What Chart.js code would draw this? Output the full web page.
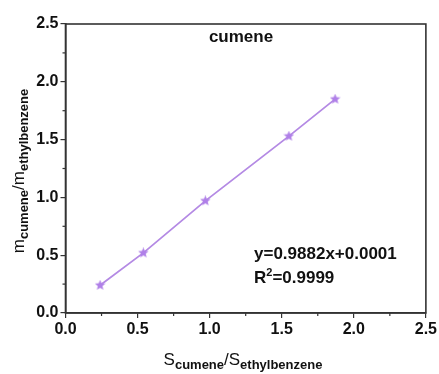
<!DOCTYPE html>
<html><head><meta charset="utf-8">
<script src="https://cdn.jsdelivr.net/npm/chart.js@4/dist/chart.umd.min.js"></script>
<style>html,body{margin:0;padding:0;background:#fff}#wrap{width:439px;height:374px}</style>
</head><body><div id="wrap"><canvas id="c" width="439" height="374"></canvas></div>
<script>
const xValues = [0.24, 0.54, 0.97, 1.55, 1.87];
const yValues = [0.24, 0.52, 0.97, 1.53, 1.85];
const tickValues = [0, 0.5, 1.0, 1.5, 2.0, 2.5];
const titleText = 'cumene';
const equationText = 'y=0.9882x+0.0001';
const r2Text = '0.9999';

const FONT = '"Liberation Sans", Arial, sans-serif';
const LINE = '#b48ae4';
const AX = '#333333';

function starImage(size, color) {
  const c = document.createElement('canvas');
  c.width = size; c.height = size;
  const g = c.getContext('2d');
  const cx = size / 2, cy = size / 2, R = size / 2, r = R * 0.45;
  g.beginPath();
  for (let i = 0; i < 10; i++) {
    const a = -Math.PI / 2 + i * Math.PI / 5;
    const rad = i % 2 === 0 ? R : r;
    const x = cx + rad * Math.cos(a), y = cy + rad * Math.sin(a);
    if (i === 0) g.moveTo(x, y); else g.lineTo(x, y);
  }
  g.closePath();
  g.fillStyle = color; g.fill();
  return c;
}
const star = starImage(11, '#b080e8');

function drawSub(ctx, parts, x, y) {
  const mainF = 'normal 17px ' + FONT, subF = 'bold 13px ' + FONT;
  let w = 0;
  parts.forEach((p, i) => { ctx.font = i % 2 ? subF : mainF; w += ctx.measureText(p).width; });
  let cx = x - w / 2;
  ctx.textBaseline = 'alphabetic'; ctx.textAlign = 'left';
  parts.forEach((p, i) => {
    ctx.font = i % 2 ? subF : mainF;
    ctx.fillText(p, cx, y + (i % 2 ? 4 : 0));
    cx += ctx.measureText(p).width;
  });
}

const deco = {
  id: 'deco',
  afterDraw(chart) {
    const ctx = chart.ctx, a = chart.chartArea;
    const xs = chart.scales.x, ys = chart.scales.y;
    ctx.save();
    ctx.strokeStyle = AX; ctx.lineWidth = 1.6;
    ctx.strokeRect(a.left, a.top, a.right - a.left, a.bottom - a.top);
    ctx.lineWidth = 1.2;
    for (let v = 0.25; v < 2.5; v += 0.5) {
      const px = xs.getPixelForValue(v);
      ctx.beginPath(); ctx.moveTo(px, a.bottom); ctx.lineTo(px, a.bottom + 3); ctx.stroke();
      const py = ys.getPixelForValue(v);
      ctx.beginPath(); ctx.moveTo(a.left, py); ctx.lineTo(a.left - 3, py); ctx.stroke();
    }
    ctx.fillStyle = '#111';
    ctx.font = 'bold 17px ' + FONT; ctx.textAlign = 'center'; ctx.textBaseline = 'middle';
    ctx.fillText(titleText, 241, 37);
    ctx.textAlign = 'left'; ctx.textBaseline = 'alphabetic';
    ctx.fillText(equationText, 254, 259);
    ctx.fillText('R', 254, 283);
    const rw = ctx.measureText('R').width;
    ctx.font = 'bold 11px ' + FONT;
    ctx.fillText('2', 254 + rw, 276);
    const tw = ctx.measureText('2').width;
    ctx.font = 'bold 17px ' + FONT;
    ctx.fillText('=' + r2Text, 254 + rw + tw, 283);
    drawSub(ctx, ['S', 'cumene', '/S', 'ethylbenzene'], 243, 365);
    ctx.translate(24, 171); ctx.rotate(-Math.PI / 2);
    drawSub(ctx, ['m', 'cumene', '/m', 'ethylbenzene'], 0, 0);
    ctx.restore();
  }
};

new Chart(document.getElementById('c'), {
  type: 'scatter',
  data: { datasets: [{
    data: xValues.map((x, i) => ({ x, y: yValues[i] })),
    showLine: true, borderColor: LINE, borderWidth: 1.8,
    pointStyle: star, pointRadius: 5, pointHoverRadius: 5
  }]},
  options: {
    responsive: false, animation: false,
    layout: { padding: { top: 24, right: 13, left: 0, bottom: 0 } },
    plugins: { legend: { display: false }, tooltip: { enabled: false } },
    scales: {
      x: {
        type: 'linear', min: 0, max: 2.5,
        afterBuildTicks: s => { s.ticks = tickValues.map(v => ({ value: v })); },
        afterFit: s => { s.height = 61; },
        grid: { drawOnChartArea: false, drawTicks: true, tickLength: 5, color: AX, lineWidth: 1.2 },
        border: { display: true, color: AX, width: 1.6 },
        ticks: { color: '#111', font: { family: FONT, size: 16, weight: 'bold' }, padding: 2,
                 callback: v => v.toFixed(1), maxRotation: 0 }
      },
      y: {
        type: 'linear', min: 0, max: 2.5,
        afterBuildTicks: s => { s.ticks = tickValues.map(v => ({ value: v })); },
        afterFit: s => { s.width = 65.5; },
        grid: { drawOnChartArea: false, drawTicks: true, tickLength: 5, color: AX, lineWidth: 1.2 },
        border: { display: true, color: AX, width: 1.6 },
        ticks: { color: '#111', font: { family: FONT, size: 16, weight: 'bold' }, padding: 2,
                 callback: v => v.toFixed(1) }
      }
    }
  },
  plugins: [deco]
});
</script></body></html>
